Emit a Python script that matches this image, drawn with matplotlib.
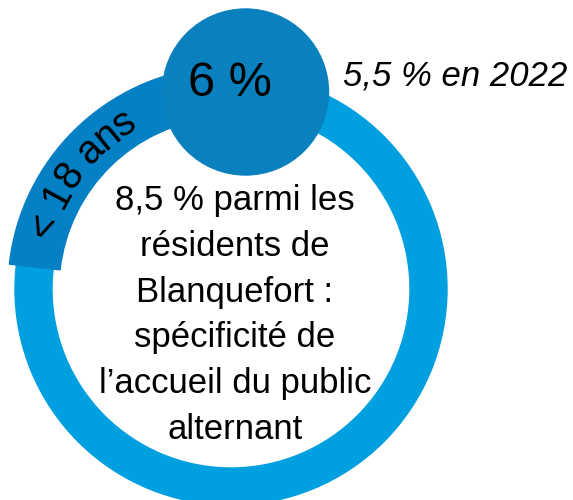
import numpy as np
import matplotlib.pyplot as plt
from matplotlib.patches import Wedge, Circle
from matplotlib.textpath import TextPath
from matplotlib.font_manager import FontProperties

FONT = ['Liberation Sans', 'DejaVu Sans']
plt.rcParams['font.family'] = FONT

W, H = 573, 500

# texts of the graphic
share_label = '6 %'
previous_label = '5,5 % en 2022'
band_label = '< 18 ans'
centre_lines = ['8,5 % parmi les',
                'résidents de',
                'Blanquefort :',
                'spécificité de',
                'l\u2019accueil du public',
                'alternant']

# ring and band angles (degrees, counter clockwise from 3 o'clock)
band_start = 173.6
band_end = 95.0
band_text_mid = 142.3

ring_color = '#009FDF'
band_color = '#0680C4'
bubble_color = '#0A80BE'


def arc_text(ax, text, cx, cy, r, theta_mid, size):
    # lay each character along the arc, reading clockwise
    prop = FontProperties(family=FONT, size=size)
    px = size * 100 / 72

    def adv(s):
        full = TextPath((0, 0), '|' + s + '|', size=px, prop=prop).get_extents().width
        bars = TextPath((0, 0), '||', size=px, prop=prop).get_extents().width
        return full - bars

    total = adv(text)
    for i, ch in enumerate(text):
        if ch == ' ':
            continue
        s = adv(text[:i]) + adv(ch) / 2
        theta = theta_mid - np.degrees((s - total / 2) / r)
        t = np.radians(theta)
        ax.text(cx + r * np.cos(t), cy + r * np.sin(t), ch, fontsize=size,
                rotation=theta - 90, rotation_mode='anchor',
                ha='center', va='center', color='black', zorder=5)


fig = plt.figure(figsize=(W / 100, H / 100), dpi=100)
ax = fig.add_axes([0, 0, 1, 1])
ax.set_xlim(0, W)
ax.set_ylim(0, H)
ax.axis('off')

cx, cy = 231, H - 289

ax.add_patch(Wedge((cx, cy), 216, 0, 360, width=37, color=ring_color, zorder=1))
ax.add_patch(Wedge((cx, cy), 223, band_end, band_start, width=51,
                   color=band_color, zorder=2))
ax.add_patch(Circle((245.5, H - 92), 83, color=bubble_color, zorder=3))

ax.text(229.5, H - 96, share_label, fontsize=35, ha='center', va='baseline', zorder=6)
ax.text(455, H - 85, previous_label, fontsize=25, style='italic',
        ha='center', va='baseline')

arc_text(ax, band_label, cx, cy, 197, band_text_mid, 28.5)

for k, line in enumerate(centre_lines):
    ax.text(235, H - (210 + 45.8 * k), line, fontsize=25,
            ha='center', va='baseline', zorder=6)

fig.savefig('out.png', dpi=100)
